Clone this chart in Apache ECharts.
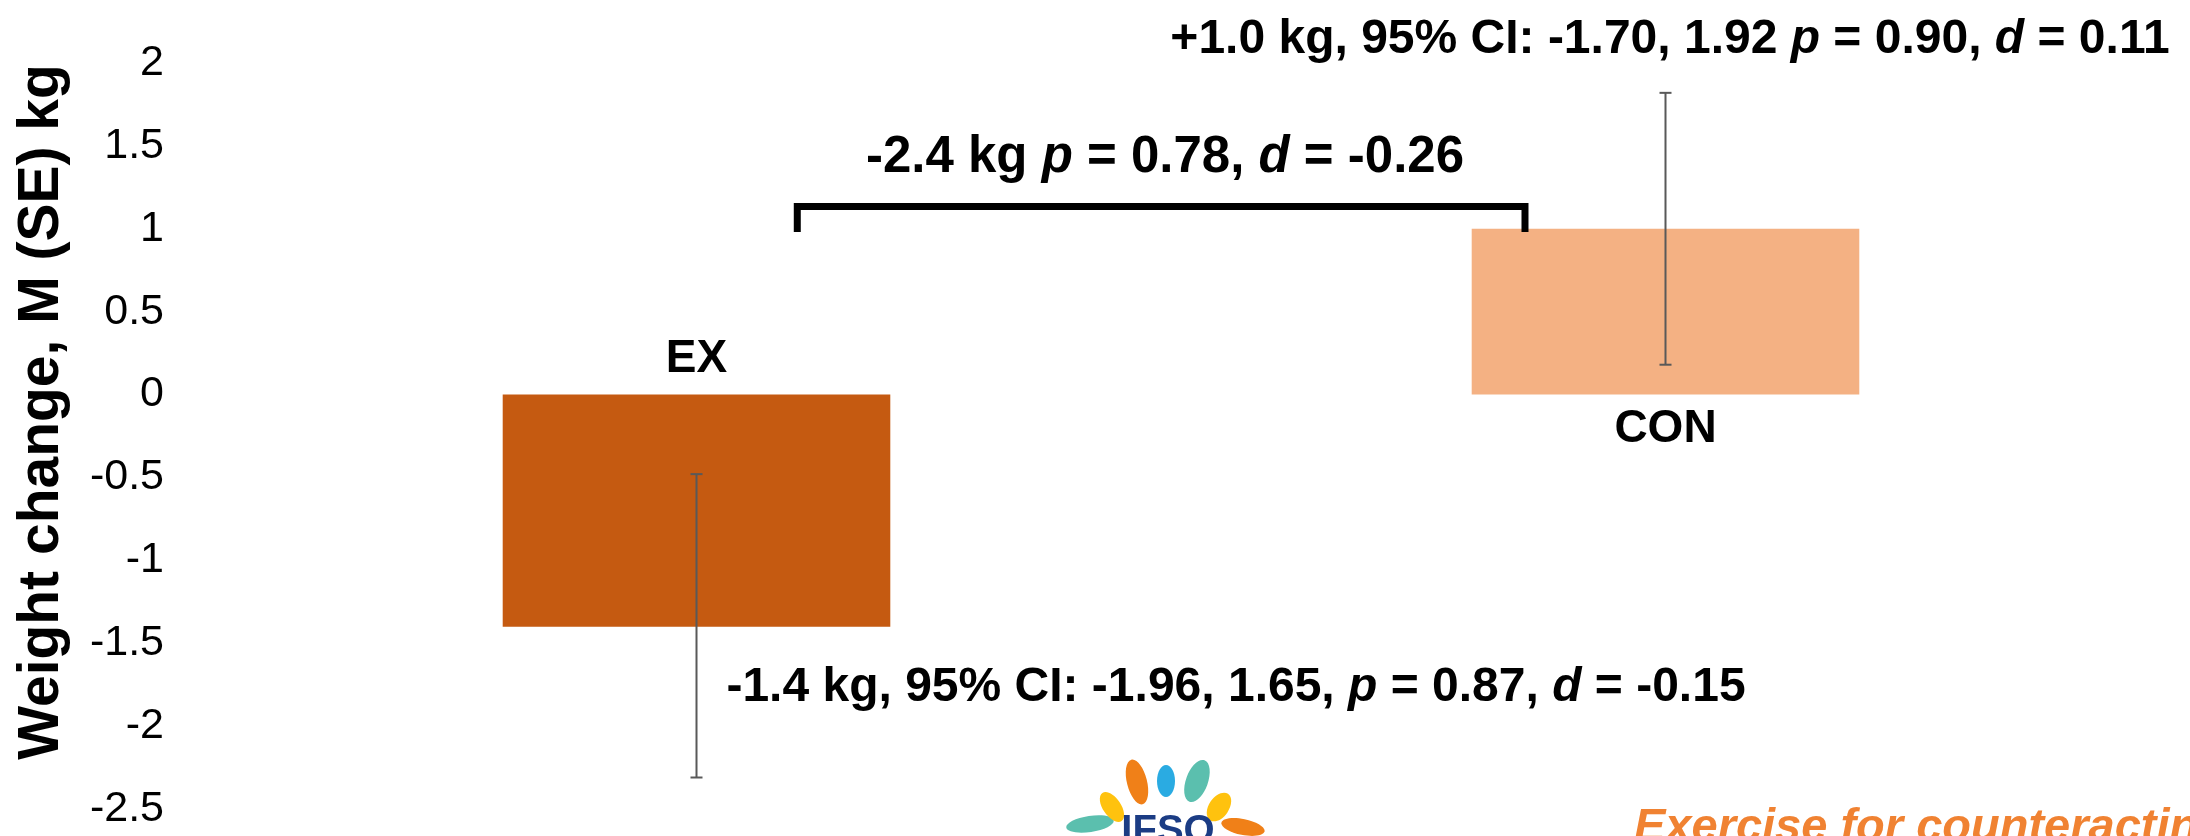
<!DOCTYPE html>
<html>
<head>
<meta charset="utf-8">
<script src="https://cdn.jsdelivr.net/npm/echarts@6/dist/echarts.min.js"></script>
<style>
  html, body { margin: 0; padding: 0; background: #ffffff; }
  #chart { width: 2190px; height: 836px; }
</style>
</head>
<body>
<div id="chart"></div>
<script>
// ---- data ----
const categories = ['EX', 'CON'];
const means = [-1.4, 1.0];
const errLow = [-2.31, 0.18];
const errHigh = [-0.48, 1.82];
const yMin = -2.5, yMax = 2, yInterval = 0.5;
// comparison bracket (x on a 0..2 scale spanning both category bands)
const bracketX = [0.604, 0.604, 1.355, 1.355];
const bracketY = [0.98, 1.134, 1.134, 0.98];
const annoTop = '+1.0 kg, 95% CI: -1.70, 1.92 {i|p} = 0.90, {i|d} = 0.11';
const annoMid = '-2.4 kg {i|p} = 0.78, {i|d} = -0.26';
const annoBottom = '-1.4 kg, 95% CI: -1.96, 1.65, {i|p} = 0.87, {i|d} = -0.15';
const yTitle = 'Weight change, M (SE) kg';
const footerText = 'Exercise for counteracting';

const FONT = "'Liberation Sans', Arial, sans-serif";
const chart = echarts.init(document.getElementById('chart'), null, { renderer: 'canvas' });

function annoText(text, x, y, size) {
  return {
    type: 'text', x: x, y: y,
    style: {
      text: text, fill: '#000', fontFamily: FONT, fontWeight: 'bold', fontSize: size,
      align: 'center', verticalAlign: 'middle',
      rich: { i: { fontStyle: 'italic', fontWeight: 'bold', fontSize: size, fontFamily: FONT, fill: '#000' } }
    }
  };
}
function flame(x, y, rx, ry, rot, color) {
  return { type: 'ellipse', x: x, y: y, rotation: rot, shape: { cx: 0, cy: 0, rx: rx, ry: ry }, style: { fill: color } };
}

const option = {
  backgroundColor: '#ffffff',
  animation: false,
  grid: { left: 212, right: 40, top: 63, bottom: 27, containLabel: false },
  xAxis: [
    { type: 'category', data: categories, boundaryGap: true,
      axisLine: { show: false }, axisTick: { show: false }, axisLabel: { show: false }, splitLine: { show: false } },
    { type: 'value', min: 0, max: 2, show: false }
  ],
  yAxis: {
    type: 'value', min: yMin, max: yMax, interval: yInterval,
    axisLine: { show: false }, axisTick: { show: false }, splitLine: { show: false },
    axisLabel: { color: '#000', fontSize: 43, fontFamily: FONT, margin: 48 }
  },
  series: [
    {
      type: 'bar', data: means.map((v, i) => ({ value: v, itemStyle: { color: i === 0 ? '#C55A11' : '#F4B183' } })),
      barWidth: '40%', xAxisIndex: 0
    },
    {
      type: 'custom', xAxisIndex: 0,
      data: categories.map((c, i) => [i, errLow[i], errHigh[i]]),
      renderItem: function (params, api) {
        const pH = api.coord([api.value(0), api.value(2)]);
        const pL = api.coord([api.value(0), api.value(1)]);
        const half = 6;
        const st = { stroke: '#595959', lineWidth: 2 };
        return { type: 'group', children: [
          { type: 'line', shape: { x1: pH[0], y1: pH[1], x2: pL[0], y2: pL[1] }, style: st },
          { type: 'line', shape: { x1: pH[0] - half, y1: pH[1], x2: pH[0] + half, y2: pH[1] }, style: st },
          { type: 'line', shape: { x1: pL[0] - half, y1: pL[1], x2: pL[0] + half, y2: pL[1] }, style: st }
        ] };
      },
      z: 5
    },
    {
      type: 'line', xAxisIndex: 1, symbol: 'none',
      data: bracketX.map((x, i) => [x, bracketY[i]]),
      lineStyle: { color: '#000', width: 7, join: 'miter', cap: 'butt' },
      z: 6
    },
    {
      type: 'scatter', xAxisIndex: 0, symbolSize: 0,
      itemStyle: { color: '#000', opacity: 1 },
      label: { show: true, color: '#000', opacity: 1, fontSize: 46, fontWeight: 'bold', fontFamily: FONT, textBorderWidth: 0 },
      data: categories.map((c, i) => ({
        value: [i, 0],
        label: { formatter: c, position: means[i] < 0 ? 'top' : 'bottom', distance: 12, color: '#000' }
      })),
      z: 7
    }
  ],
  graphic: [
    annoText(annoTop, 1670, 40, 48),
    annoText(annoMid, 1165, 158, 51),
    annoText(annoBottom, 1236, 688, 48),
    {
      type: 'text', x: 42, y: 412, rotation: Math.PI / 2,
      style: { text: yTitle, fill: '#000', fontFamily: FONT, fontWeight: 'bold', fontSize: 57, align: 'center', verticalAlign: 'middle' }
    },
    {
      type: 'text', x: 1634, y: 805,
      style: { text: footerText, fill: '#F08232', fontFamily: FONT, fontWeight: 'bold', fontStyle: 'italic', fontSize: 47, align: 'left', verticalAlign: 'top' }
    },
    {
      type: 'group', children: [
        flame(1090, 824, 24, 8, 0.15, '#5BBFAE'),
        flame(1112, 807, 9, 17, 0.6, '#FFC20E'),
        flame(1137, 782, 10, 23, 0.25, '#F08018'),
        flame(1166, 781, 9, 16, 0, '#2AABE2'),
        flame(1197, 781, 11, 22, -0.35, '#5BBFAE'),
        flame(1219, 807, 10, 16, -0.6, '#FFC20E'),
        flame(1243, 827, 22, 8, -0.2, '#F08018'),
        { type: 'text', x: 1168, y: 812, style: { text: 'IFSO', fill: '#1B3C84', fontFamily: FONT, fontWeight: 'bold', fontSize: 40, align: 'center', verticalAlign: 'top' } }
      ]
    }
  ]
};
chart.setOption(option);
</script>
</body>
</html>
